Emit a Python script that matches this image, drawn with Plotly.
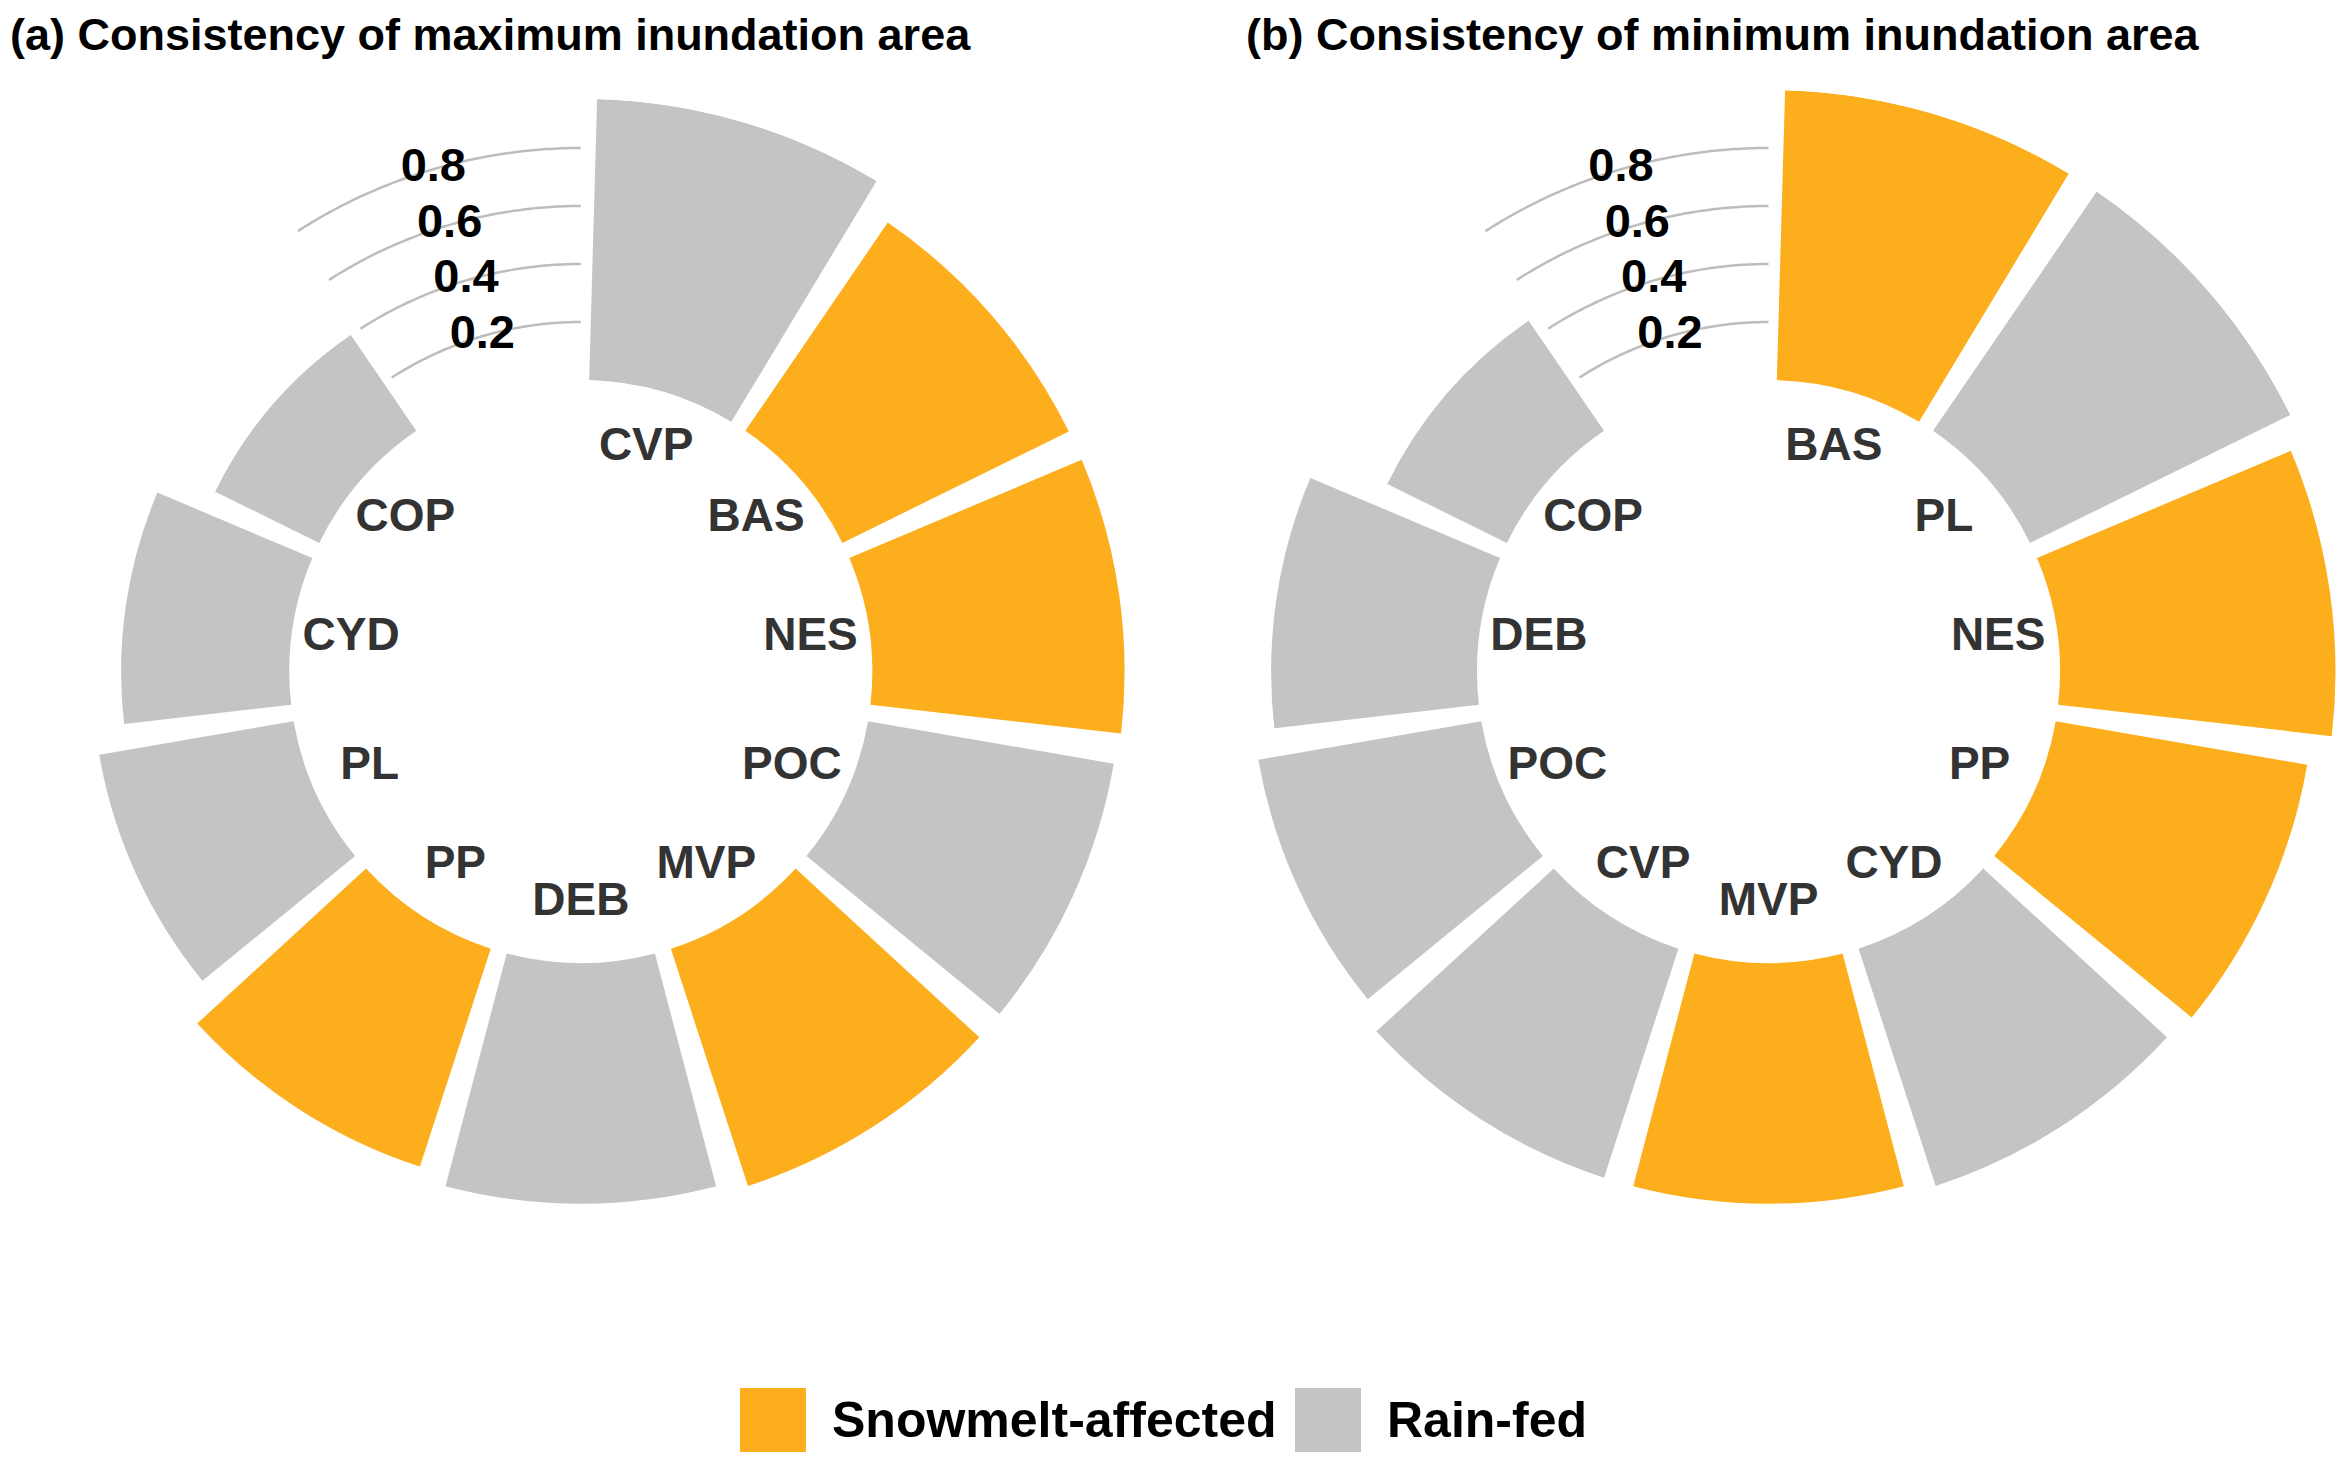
import numpy as np
import plotly.graph_objects as go

# ---------------- data ----------------
cats_a = ["CVP", "BAS", "NES", "POC", "MVP", "DEB", "PP", "PL", "CYD", "COP"]
vals_a = [0.97, 0.87, 0.87, 0.86, 0.86, 0.83, 0.79, 0.68, 0.58, 0.40]
cats_b = ["BAS", "PL", "NES", "PP", "CYD", "MVP", "CVP", "POC", "DEB", "COP"]
vals_b = [1.00, 1.00, 0.95, 0.88, 0.86, 0.83, 0.83, 0.78, 0.71, 0.46]
snowmelt_sites = ["BAS", "NES", "MVP", "PP"]
tick_vals = [0.2, 0.4, 0.6, 0.8]
tick_text = ["0.2", "0.4", "0.6", "0.8"]
titles = ["(a) Consistency of maximum inundation area",
          "(b) Consistency of minimum inundation area"]
legend_names = ["Snowmelt-affected", "Rain-fed"]

# ---------------- style ----------------
ORANGE = "#FDAE1C"
GRAY = "#C4C4C4"
GRID = "#BDBDBD"
FONT = "Liberation Sans, Arial, sans-serif"
W, H = 2342, 1456          # page body has an 8px margin

n_slots = len(cats_a) + 1          # one empty slot for the radial labels
slot = 360.0 / n_slots
theta_bars = [slot * (i + 0.5) for i in range(len(cats_a))]
bar_width = slot * 0.9
label_r = -0.205

K = 290.0      # px per unit value
R0 = 291.5     # px radius of value 0 (hole)
RMIN = -R0 / K
RMAX_A, RMAX_B = 0.97, 1.0

fig = go.Figure()


def add_panel(cats, vals, sub):
    colors = [ORANGE if c in snowmelt_sites else GRAY for c in cats]
    fig.add_trace(go.Barpolar(
        r=vals, theta=theta_bars, width=[bar_width] * len(vals),
        marker=dict(color=colors, line=dict(width=0)),
        subplot=sub, showlegend=False, hoverinfo="skip"))
    arc_theta = np.linspace(360 - slot, 360, 80)
    for t in tick_vals:
        fig.add_trace(go.Scatterpolar(
            r=[t] * len(arc_theta), theta=arc_theta, mode="lines",
            line=dict(color=GRID, width=2.5), cliponaxis=False,
            subplot=sub, showlegend=False, hoverinfo="skip"))
    fig.add_trace(go.Scatterpolar(
        r=tick_vals, theta=[360 - slot / 2] * len(tick_vals), mode="text",
        text=["<b>%s</b>" % s for s in tick_text],
        textfont=dict(family=FONT, size=47, color="black"),
        cliponaxis=False, subplot=sub, showlegend=False, hoverinfo="skip"))
    fig.add_trace(go.Scatterpolar(
        r=[label_r] * len(cats), theta=theta_bars, mode="text",
        text=["<b>%s</b>" % c for c in cats],
        textfont=dict(family=FONT, size=46, color="#333333"),
        cliponaxis=False, subplot=sub, showlegend=False, hoverinfo="skip"))


add_panel(cats_a, vals_a, "polar")
add_panel(cats_b, vals_b, "polar2")


def polar_layout(xdom, ydom, rmax):
    return dict(
        domain=dict(x=xdom, y=ydom),
        bgcolor="rgba(0,0,0,0)", hole=0,
        radialaxis=dict(range=[RMIN, rmax], visible=False, showgrid=False),
        angularaxis=dict(rotation=90, direction="clockwise", visible=False,
                         showgrid=False, thetaunit="degrees"),
    )


cy = 663.5
Ra = R0 + K * RMAX_A
Rb = R0 + K * RMAX_B
dom_a_x = [0.0, 2 * Ra / W]
dom_a_y = [(H - (cy + Ra)) / H, (H - (cy - Ra)) / H]
dom_b_x = [(W - 2 * Rb) / W, 1.0]
dom_b_y = [(H - (cy + Rb)) / H, (H - (cy - Rb)) / H]

fig.update_layout(
    width=W, height=H, autosize=False,
    margin=dict(l=0, r=0, t=0, b=0),
    paper_bgcolor="white", plot_bgcolor="white",
    polar=polar_layout(dom_a_x, dom_a_y, RMAX_A),
    polar2=polar_layout(dom_b_x, dom_b_y, RMAX_B),
    showlegend=False,
)

# titles
for x0, t in zip([1, 1237], titles):
    fig.add_annotation(text="<b>%s</b>" % t, xref="paper", yref="paper",
                       x=x0 / W, y=1.0, xanchor="left", yanchor="top",
                       borderpad=0, showarrow=False,
                       font=dict(family=FONT, size=45, color="black"))

# legend (swatches + labels)
sw = [(732, ORANGE, 822), (1287, GRAY, 1377)]
for (x0, col, tx), name in zip(sw, legend_names):
    fig.add_shape(type="rect", xref="paper", yref="paper",
                  x0=x0 / W, x1=(x0 + 66) / W, y0=1 - 1444 / H, y1=1 - 1380 / H,
                  fillcolor=col, line=dict(width=0))
    fig.add_annotation(text="<b>%s</b>" % name, xref="paper", yref="paper",
                       x=tx / W, y=1 - 1412 / H, xanchor="left", yanchor="middle",
                       showarrow=False, font=dict(family=FONT, size=50, color="black"))

fig.write_html("out.html")
